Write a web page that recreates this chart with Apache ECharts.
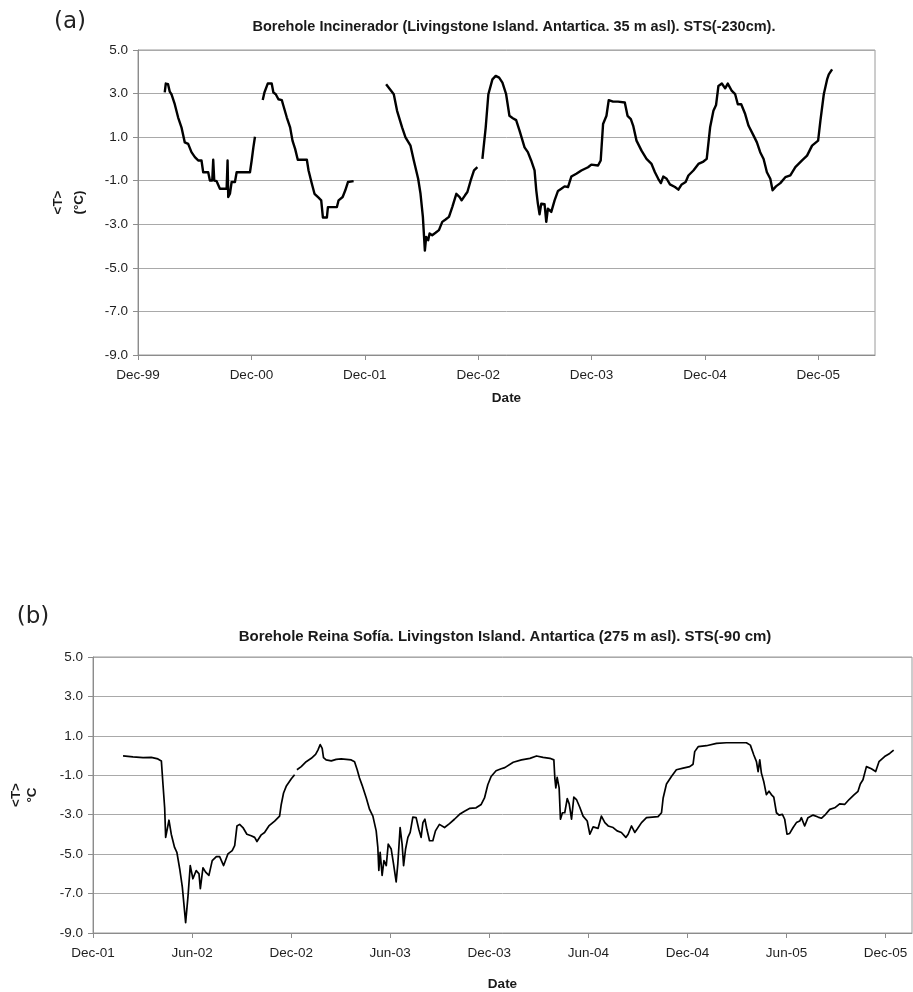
<!DOCTYPE html>
<html>
<head>
<meta charset="utf-8">
<script src="https://cdn.jsdelivr.net/npm/echarts@6/dist/echarts.min.js"></script>
<style>
  html, body { margin: 0; padding: 0; background: #ffffff; }
  #chart { width: 913px; height: 992px; }
</style>
</head>
<body>
<div id="chart"></div>
<script>
// Time is expressed in months counted from 1 Dec 1999 (0 = Dec-99, 12 = Dec-00, 24 = Dec-01 ...).
// A null temperature marks a gap in the logger record.

// (a) Borehole Incinerador, STS -230 cm
const monthsA = [
  2.83, 2.94, 3.18, 3.36, 3.54, 3.89, 4.25, 4.60, 4.95, 5.31, 5.66, 6.02, 6.37, 6.72, 6.90, 7.43, 7.61, 7.86, 7.96, 8.07,
  8.32, 8.67, 9.38, 9.48, 9.55, 9.73, 9.91, 10.26, 10.44, 11.85, 12.03, 12.21, 12.38,
  12.8,
  13.20, 13.38, 13.73, 14.15, 14.33, 14.58, 14.86, 15.22, 15.39, 15.75, 16.10, 16.35, 16.63, 16.91, 17.87, 18.05, 18.40, 18.68, 19.11, 19.39,
  19.57, 19.99, 20.10, 21.05, 21.23, 21.66, 21.94, 22.22, 22.82,
  24.5,
  26.26, 27.07, 27.42, 27.95, 28.31, 28.84, 29.19, 29.65, 29.90, 30.15, 30.36, 30.50, 30.71, 30.86, 31.14, 31.49, 31.85, 32.20, 32.55, 32.91,
  33.26, 33.69, 34.04, 34.25, 34.61, 34.86, 35.21, 35.56, 35.92,
  36.2,
  36.45, 36.80, 37.08, 37.51, 37.86, 38.22, 38.57, 38.96, 39.31, 39.67, 40.02, 40.38, 40.91, 41.26, 41.61, 41.97, 42.15, 42.32, 42.50, 42.68,
  43.03, 43.21, 43.38, 43.74, 44.09, 44.45, 44.80, 45.15, 45.51, 45.86, 46.39, 46.92, 47.63, 47.98, 48.69, 48.97, 49.22, 49.58, 49.82, 50.28,
  50.81, 51.52, 51.81, 52.16, 52.41, 52.76, 53.29, 53.82, 54.35, 54.71, 55.06, 55.34, 55.59, 55.95, 56.30, 56.83, 57.19, 57.54, 57.96, 58.25,
  58.78, 59.31, 59.84, 60.19, 60.55, 60.90, 61.18, 61.43, 61.79, 62.14, 62.42, 62.85, 63.20, 63.48, 63.84, 64.26, 64.62, 65.15, 65.50, 65.85,
  66.21, 66.56, 66.92, 67.16, 67.52, 67.98, 68.51, 69.04, 69.57, 70.28, 70.81, 71.34, 71.98, 72.22, 72.58, 72.93, 73.11, 73.46
];
const tempA = [
  3.05, 3.46, 3.43, 3.09, 2.97, 2.51, 1.90, 1.45, 0.76, 0.69, 0.31, 0.08, -0.07, -0.07, -0.61, -0.61, -0.99, -0.99, -0.04, -0.99,
  -1.02, -1.37, -1.37, -0.07, -1.75, -1.60, -1.06, -1.06, -0.61, -0.61, -0.07, 0.53, 1.02,
  null,
  2.70, 3.05, 3.46, 3.46, 3.05, 2.97, 2.74, 2.70, 2.44, 1.90, 1.45, 0.84, 0.46, -0.04, -0.04, -0.53, -1.14, -1.60, -1.78, -1.90,
  -2.69, -2.69, -2.21, -2.21, -1.90, -1.75, -1.44, -1.06, -1.02,
  null,
  3.43, 2.97, 2.21, 1.45, 0.99, 0.61, -0.07, -0.91, -1.60, -2.66, -4.21, -3.58, -3.73, -3.42, -3.50, -3.39, -3.27, -2.89, -2.78, -2.66,
  -2.21, -1.60, -1.75, -1.90, -1.67, -1.52, -0.99, -0.53, -0.38,
  null,
  0.00, 1.45, 2.97, 3.65, 3.81, 3.73, 3.50, 2.97, 1.98, 1.87, 1.78, 1.30, 0.53, 0.31, -0.07, -0.53, -1.44, -2.05, -2.54, -2.05,
  -2.08, -2.89, -2.28, -2.43, -1.90, -1.47, -1.37, -1.26, -1.29, -0.81, -0.68, -0.53, -0.38, -0.26, -0.30, -0.07, 1.60, 1.98, 2.70, 2.63,
  2.63, 2.59, 1.98, 1.83, 1.52, 0.84, 0.38, 0.00, -0.23, -0.61, -0.91, -1.11, -0.81, -0.91, -1.17, -1.29, -1.41, -1.17, -1.06, -0.76,
  -0.53, -0.23, -0.12, 0.00, 1.45, 2.21, 2.48, 3.35, 3.46, 3.24, 3.46, 3.12, 2.97, 2.51, 2.51, 2.06, 1.52, 1.07, 0.76, 0.31,
  0.00, -0.61, -0.91, -1.44, -1.26, -1.11, -0.84, -0.76, -0.38, -0.07, 0.15, 0.61, 0.84, 1.75, 2.97, 3.65, 3.88, 4.11
];

// (b) Borehole Reina Sofía, STS -90 cm
const monthsB = [
  25.82, 26.42, 27.03, 27.53, 27.93, 28.14, 28.24, 28.34, 28.40, 28.48, 28.60, 28.74, 28.84, 28.94, 29.08, 29.25, 29.41, 29.61, 29.75, 29.89,
  30.05, 30.25, 30.42, 30.50, 30.66, 30.82, 31.02, 31.22, 31.47, 31.67, 31.91, 32.17, 32.43, 32.58, 32.72, 32.88, 33.08, 33.32, 33.58, 33.79,
  33.93, 34.19, 34.39, 34.65, 35.00, 35.30, 35.40, 35.54, 35.70, 36.01, 36.21,
  36.28,
  36.35, 36.61, 36.91, 37.22, 37.48, 37.62, 37.76, 37.88, 37.96, 38.12, 38.43, 38.73, 39.03, 39.34, 39.64, 39.84, 40.00, 40.14, 40.30, 40.38,
  40.55, 40.75, 40.95, 41.15, 41.25, 41.31, 41.39, 41.51, 41.62, 41.76, 41.88, 42.06, 42.20, 42.36, 42.46, 42.60, 42.72, 42.81, 42.93, 43.07,
  43.21, 43.37, 43.57, 43.73, 43.87, 43.98, 44.10, 44.22, 44.38, 44.58, 44.74, 44.98, 45.29, 45.59, 45.89, 46.20, 46.50, 46.80, 47.20, 47.51,
  47.71, 47.91, 48.11, 48.41, 48.72, 48.94, 49.45, 49.95, 50.46, 50.86, 51.26, 51.67, 51.91, 51.97, 52.03, 52.11, 52.23, 52.31, 52.43, 52.57,
  52.72, 52.84, 52.98, 53.12, 53.28, 53.48, 53.68, 53.93, 54.09, 54.29, 54.59, 54.79, 55.00, 55.20, 55.50, 55.74, 56.00, 56.27, 56.41, 56.61,
  56.81, 56.95, 57.22, 57.52, 57.88, 58.22, 58.43, 58.53, 58.73, 59.03, 59.33, 59.74, 60.14, 60.34, 60.44, 60.65, 61.15, 61.76, 62.36, 62.97,
  63.57, 63.81, 64.02, 64.18, 64.28, 64.38, 64.48, 64.62, 64.78, 64.94, 65.08, 65.23, 65.39, 65.55, 65.75, 65.89, 66.03, 66.19, 66.40, 66.60,
  66.80, 66.90, 67.10, 67.30, 67.61, 67.91, 68.11, 68.37, 68.62, 68.92, 69.22, 69.52, 69.79, 70.07, 70.33, 70.47, 70.63, 70.84, 71.14, 71.40,
  71.60, 71.94, 72.25, 72.49
];
const tempB = [
  -0.02, -0.07, -0.10, -0.09, -0.17, -0.27, -1.48, -2.65, -4.15, -4.24, -3.28, -3.99, -3.90, -4.66, -4.91, -5.74, -6.67, -8.47, -7.17, -5.58,
  -6.25, -5.83, -6.00, -6.75, -5.69, -5.91, -6.08, -5.33, -5.13, -5.13, -5.58, -4.99, -4.82, -4.57, -3.57, -3.49, -3.65, -3.99, -4.07, -4.15,
  -4.36, -4.02, -3.90, -3.57, -3.32, -3.07, -2.48, -1.90, -1.56, -1.18, -0.97,
  null,
  -0.72, -0.56, -0.31, -0.14, 0.06, 0.28, 0.56, 0.36, -0.10, -0.22, -0.27, -0.19, -0.17, -0.19, -0.22, -0.31, -0.72, -1.14, -1.51, -1.44,
  -2.15, -2.73, -3.07, -3.82, -4.66, -5.83, -4.91, -6.08, -5.33, -5.58, -4.49, -4.74, -5.49, -6.41, -5.49, -3.65, -4.49, -5.58, -4.74, -4.15,
  -3.90, -3.12, -3.15, -3.74, -4.15, -3.40, -3.23, -3.74, -4.32, -4.32, -3.82, -3.49, -3.65, -3.45, -3.23, -2.98, -2.82, -2.68, -2.65, -2.48,
  -2.15, -1.48, -1.06, -0.77, -0.67, -0.61, -0.34, -0.22, -0.14, -0.02, -0.09, -0.14, -0.22, -1.14, -1.64, -1.11, -1.64, -3.23, -2.90, -2.90,
  -2.18, -2.45, -3.23, -2.11, -2.23, -2.62, -3.07, -3.32, -3.99, -3.62, -3.69, -3.07, -3.40, -3.57, -3.65, -3.82, -3.90, -4.15, -3.99, -3.57,
  -3.90, -3.74, -3.40, -3.15, -3.12, -3.10, -2.90, -2.15, -1.44, -1.06, -0.72, -0.64, -0.56, -0.44, 0.20, 0.45, 0.50, 0.62, 0.65, 0.65,
  0.65, 0.53, 0.03, -0.31, -0.81, -0.22, -0.89, -1.31, -1.98, -1.81, -1.98, -2.11, -2.90, -3.02, -2.98, -3.23, -3.99, -3.95, -3.65, -3.40,
  -3.32, -3.15, -3.57, -3.15, -3.02, -3.12, -3.18, -2.98, -2.73, -2.65, -2.45, -2.48, -2.23, -2.01, -1.81, -1.44, -1.23, -0.56, -0.67, -0.81,
  -0.31, -0.05, 0.11, 0.28
];

// Date axis ticks and their labels
const tickMonthsA = [0, 12, 24, 36, 48, 60, 72];
const tickLabelsA = ['Dec-99', 'Dec-00', 'Dec-01', 'Dec-02', 'Dec-03', 'Dec-04', 'Dec-05'];
const tickMonthsB = [24, 30, 36, 42, 48, 54, 60, 66, 72];
const tickLabelsB = ['Dec-01', 'Jun-02', 'Dec-02', 'Jun-03', 'Dec-03', 'Jun-04', 'Dec-04', 'Jun-05', 'Dec-05'];

const titleA = 'Borehole Incinerador (Livingstone Island. Antartica. 35 m asl). STS(-230cm).';
const titleB = 'Borehole Reina Sofía. Livingston Island. Antartica (275 m asl). STS(-90 cm)';

function toPairs(months, temps) {
  return months.map((m, i) => [m, temps[i] === null ? '-' : temps[i]]);
}
function labelLookup(ticks, labels) {
  return v => {
    const i = ticks.findIndex(t => Math.abs(t - v) < 1e-6);
    return i >= 0 ? labels[i] : '';
  };
}

const FONT = '"Liberation Sans", Arial, sans-serif';
const axisGrey = '#8c8c8c';
const gridGrey = '#a9a9a9';

function xAxisFor(gridIndex, min, max, interval, ticks, labels, nameGap) {
  return {
    gridIndex, type: 'value', min, max, interval,
    axisLine: { show: true, onZero: false, lineStyle: { color: axisGrey, width: 1 } },
    axisTick: { show: true, inside: false, length: 5, customValues: ticks, lineStyle: { color: axisGrey } },
    axisLabel: {
      customValues: ticks, formatter: labelLookup(ticks, labels),
      margin: 13, fontFamily: FONT, fontSize: 13.5, color: '#1f1f1f'
    },
    splitLine: { show: false },
    name: 'Date', nameLocation: 'middle', nameGap,
    nameTextStyle: { fontFamily: FONT, fontSize: 13.5, fontWeight: 'bold', color: '#1a1a1a' }
  };
}
function yAxisFor(gridIndex, name, nameGap, lineHeight) {
  return {
    gridIndex, type: 'value', min: -9, max: 5, interval: 2,
    axisLine: { show: true, onZero: false, lineStyle: { color: axisGrey, width: 1 } },
    axisTick: { show: true, inside: false, length: 5, lineStyle: { color: axisGrey } },
    axisLabel: { formatter: v => v.toFixed(1), margin: 10, fontFamily: FONT, fontSize: 13.5, color: '#1f1f1f' },
    splitLine: { show: true, lineStyle: { color: gridGrey, width: 1 } },
    name, nameLocation: 'middle', nameGap, nameRotate: 90,
    nameTextStyle: { fontFamily: FONT, fontSize: 13.5, fontWeight: 'bold', color: '#1a1a1a', lineHeight }
  };
}

const chart = echarts.init(document.getElementById('chart'), null, { renderer: 'canvas' });
chart.setOption({
  animation: false,
  backgroundColor: '#ffffff',
  grid: [
    { left: 138, top: 50, width: 737, height: 305, show: true, borderColor: '#9a9a9a', borderWidth: 1, backgroundColor: '#ffffff' },
    { left: 93, top: 657, width: 819, height: 279, show: true, borderColor: '#9a9a9a', borderWidth: 1, backgroundColor: '#ffffff' }
  ],
  xAxis: [
    xAxisFor(0, 0, 78, 12, tickMonthsA, tickLabelsA, 36),
    xAxisFor(1, 24, 73.6, 6, tickMonthsB, tickLabelsB, 44)
  ],
  yAxis: [
    yAxisFor(0, '<T>\n(°C)', 48, 21),
    yAxisFor(1, '<T>\n°C', 53, 16)
  ],
  graphic: [
    { type: 'text', x: 70, y: 22, style: { text: '(a)', align: 'center', verticalAlign: 'middle', font: '23px "DejaVu Sans", sans-serif', fill: '#222' } },
    { type: 'text', x: 33, y: 617, style: { text: '(b)', align: 'center', verticalAlign: 'middle', font: '23px "DejaVu Sans", sans-serif', fill: '#222' } },
    { type: 'text', x: 514, y: 27, style: { text: titleA, align: 'center', verticalAlign: 'middle', font: 'bold 14.5px "Liberation Sans", Arial, sans-serif', fill: '#1a1a1a' } },
    { type: 'text', x: 505, y: 637, style: { text: titleB, align: 'center', verticalAlign: 'middle', font: 'bold 15px "Liberation Sans", Arial, sans-serif', fill: '#1a1a1a' } }
  ],
  series: [
    {
      type: 'line', xAxisIndex: 0, yAxisIndex: 0, data: toPairs(monthsA, tempA),
      showSymbol: false, symbol: 'none', connectNulls: false,
      lineStyle: { color: '#000000', width: 2.4, join: 'round' }
    },
    {
      type: 'line', xAxisIndex: 1, yAxisIndex: 1, data: toPairs(monthsB, tempB),
      showSymbol: false, symbol: 'none', connectNulls: false,
      lineStyle: { color: '#000000', width: 1.7, join: 'round' }
    }
  ]
});
</script>
</body>
</html>
